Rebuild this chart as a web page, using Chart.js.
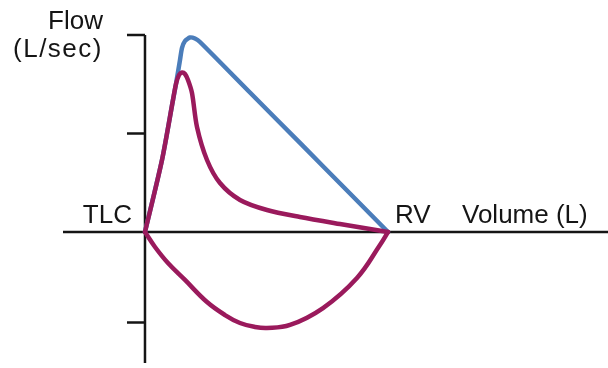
<!DOCTYPE html>
<html>
<head>
<meta charset="utf-8">
<script src="https://cdn.jsdelivr.net/npm/chart.js@4/dist/chart.umd.min.js"></script>
<style>
  html, body { margin: 0; padding: 0; background: #fff; }
  canvas { display: block; }
</style>
</head>
<body>
<canvas id="flowVolume" width="608" height="368"></canvas>
<script>
// volume (L, 0 = TLC, 5 = RV) and flow (L/sec)
const expVolume = [0, 0.35, 0.576, 0.638, 0.7, 0.761, 0.823, 0.885, 0.967, 1.07, 1.276, 1.543, 1.955, 2.51, 3.189, 4.012, 5];
const expFlow = [0, 0.731, 1.34, 1.503, 1.594, 1.619, 1.604, 1.543, 1.411, 1.066, 0.731, 0.497, 0.325, 0.223, 0.152, 0.081, 0];

const normVolume = [0, 0.35, 0.576, 0.638, 0.679, 0.72, 0.761, 0.823, 0.926, 1.029, 1.132, 2.16, 3.189, 4.218, 5];
const normFlow = [0, 0.731, 1.34, 1.503, 1.624, 1.746, 1.868, 1.939, 1.975, 1.964, 1.929, 1.416, 0.904, 0.391, 0];

const inspVolume = [0, 0.206, 0.473, 0.823, 1.276, 1.646, 1.955, 2.263, 2.51, 2.984, 3.663, 4.362, 4.835, 5];
const inspFlow = [0, -0.152, -0.315, -0.487, -0.711, -0.843, -0.924, -0.964, -0.975, -0.944, -0.772, -0.467, -0.132, 0];

const yTicks = [-0.92, 1, 2];
const rvVolume = 5;

const red = '#9a1a5c';
const blue = '#4b7dba';
const ink = '#151515';
const labelFont = '26px "Liberation Sans", Arial, sans-serif';

const toPoints = (xs, ys) => xs.map((x, i) => ({ x: x, y: ys[i] }));

const lineSet = (points, color, tension) => ({
  data: points,
  showLine: true,
  borderColor: color,
  backgroundColor: color,
  borderWidth: 4.5,
  pointRadius: 0,
  tension: tension,
  borderCapStyle: 'round',
  borderJoinStyle: 'round',
  clip: false,
});

// axes, ticks and labels drawn by hand so they sit on the zero lines
const axesPlugin = {
  id: 'axes',
  beforeDatasetsDraw(chart) {
    const { ctx, chartArea, scales } = chart;
    const x0 = scales.x.getPixelForValue(0);
    const y0 = scales.y.getPixelForValue(0);
    const xRV = scales.x.getPixelForValue(rvVolume);
    ctx.save();
    ctx.strokeStyle = ink;
    ctx.lineWidth = 2.5;
    ctx.beginPath();
    ctx.moveTo(x0, chartArea.top);
    ctx.lineTo(x0, chartArea.bottom);
    ctx.moveTo(chartArea.left, y0);
    ctx.lineTo(chartArea.right, y0);
    yTicks.forEach((t) => {
      const yp = scales.y.getPixelForValue(t);
      ctx.moveTo(x0 - 18, yp);
      ctx.lineTo(x0, yp);
    });
    ctx.stroke();

    ctx.fillStyle = ink;
    ctx.font = labelFont;
    ctx.textBaseline = 'alphabetic';
    ctx.textAlign = 'right';
    ctx.fillText('Flow', x0 - 42, 29);
    ctx.letterSpacing = '1.5px';
    ctx.fillText('(L/sec)', x0 - 42, 57);
    ctx.letterSpacing = '0px';
    ctx.fillText('TLC', x0 - 13, y0 - 9);
    ctx.textAlign = 'left';
    ctx.fillText('RV', xRV + 7, y0 - 9);
    ctx.fillText('Volume (L)', xRV + 74, y0 - 9);
    ctx.restore();
  },
};

new Chart(document.getElementById('flowVolume'), {
  type: 'scatter',
  data: {
    datasets: [
      lineSet(toPoints(expVolume, expFlow), red, 0.3),
      lineSet(toPoints(inspVolume, inspFlow), red, 0.4),
      lineSet(toPoints(normVolume, normFlow), blue, 0.2),
    ],
  },
  options: {
    responsive: false,
    animation: false,
    layout: { padding: { left: 63, right: 0, top: 35, bottom: 5 } },
    plugins: { legend: { display: false }, tooltip: { enabled: false } },
    scales: {
      x: { type: 'linear', display: false, min: -1.687, max: 9.527 },
      y: { type: 'linear', display: false, min: -1.33, max: 2 },
    },
  },
  plugins: [axesPlugin],
});
</script>
</body>
</html>
